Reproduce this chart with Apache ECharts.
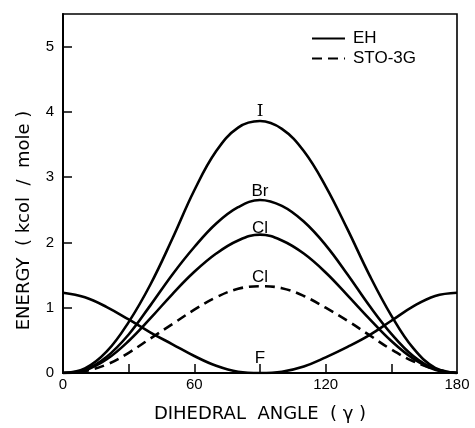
<!DOCTYPE html>
<html>
<head>
<meta charset="utf-8">
<title>Rotational barrier</title>
<script src="https://cdn.jsdelivr.net/npm/echarts@6.0.0/dist/echarts.min.js"></script>
<style>
  html, body { margin: 0; padding: 0; background: #fff; }
  #chart { width: 475px; height: 428px; }
</style>
</head>
<body>
<div id="chart"></div>
<script>
  // dihedral angle in degrees
  var angles = [0, 10, 20, 30, 40, 50, 60, 70, 80, 90, 100, 110, 120, 130, 140, 150, 160, 170, 180]

  // EH curves (kcal/mole)
  var iodine = [0, 0.07, 0.33, 0.78, 1.36, 2.06, 2.80, 3.40, 3.76, 3.86, 3.74, 3.40, 2.86, 2.20, 1.50, 0.88, 0.38, 0.08, 0]
  var bromine = [0, 0.05, 0.25, 0.59, 1.04, 1.51, 1.93, 2.29, 2.54, 2.65, 2.56, 2.32, 1.96, 1.51, 1.03, 0.60, 0.26, 0.06, 0]
  var chlorineEH = [0, 0.04, 0.21, 0.49, 0.84, 1.21, 1.55, 1.83, 2.03, 2.12, 2.03, 1.83, 1.54, 1.19, 0.83, 0.49, 0.22, 0.05, 0]
  var fluorine = [1.23, 1.16, 1.01, 0.82, 0.62, 0.44, 0.26, 0.11, 0.02, 0, 0.02, 0.10, 0.24, 0.40, 0.58, 0.80, 1.02, 1.18, 1.23]

  // STO-3G curve
  var chlorineSTO = [0, 0.03, 0.13, 0.31, 0.53, 0.75, 0.97, 1.16, 1.29, 1.33, 1.30, 1.18, 1.00, 0.80, 0.58, 0.36, 0.18, 0.06, 0]

  var yTicks = [0, 1, 2, 3, 4, 5]
  var xLabels = [0, 60, 120, 180]
  var xTicks = [30, 60, 90, 120, 150]

  var font = 'Liberation Sans'
  var peakIndex = 9

  function curve(name, values, label, shift, dashed, labelFont) {
    return {
      name: name,
      type: 'line',
      smooth: 0.4,
      symbol: 'circle',
      symbolSize: 2,
      showSymbol: true,
      silent: true,
      z: 3,
      itemStyle: { color: 'rgba(0,0,0,0)' },
      lineStyle: {
        color: '#000',
        width: 2.6,
        type: dashed ? [10, 6] : 'solid'
      },
      data: angles.map(function (a, i) {
        if (i !== peakIndex) return [a, values[i]]
        return {
          value: [a, values[i]],
          label: {
            show: true,
            position: 'top',
            distance: 0,
            offset: [0, shift],
            formatter: label,
            color: '#000',
            fontSize: 17,
            fontFamily: labelFont || font
          }
        }
      })
    }
  }

  var chart = echarts.init(document.getElementById('chart'))

  chart.setOption({
    backgroundColor: '#fff',
    animation: false,
    textStyle: { fontFamily: font, color: '#000' },
    grid: {
      left: 63,
      right: 18,
      top: 14,
      bottom: 51,
      show: true,
      borderColor: '#000',
      borderWidth: 1.6
    },
    legend: {
      orient: 'vertical',
      left: 306,
      top: 25,
      itemWidth: 33,
      itemHeight: 14,
      itemGap: 3,
      data: ['EH', 'STO-3G'],
      textStyle: { fontSize: 17, color: '#000', padding: [0, 0, 0, 3] }
    },
    xAxis: {
      type: 'value',
      min: 0,
      max: 180,
      interval: 30,
      name: 'DIHEDRAL  ANGLE  ( γ )',
      nameLocation: 'middle',
      nameGap: 32,
      nameTextStyle: { fontSize: 18, color: '#000', fontFamily: 'DejaVu Sans' },
      axisLine: { lineStyle: { color: '#000', width: 2 } },
      axisTick: { inside: true, length: 9, customValues: xTicks, lineStyle: { color: '#000', width: 1.5 } },
      axisLabel: { customValues: xLabels, margin: 4, fontSize: 15, color: '#000' },
      splitLine: { show: false }
    },
    yAxis: {
      type: 'value',
      min: 0,
      max: 5.5,
      interval: 1,
      name: 'ENERGY  ( kcol  /  mole )',
      nameLocation: 'middle',
      nameGap: 30,
      nameRotate: 90,
      nameTextStyle: { fontSize: 18, color: '#000', fontFamily: 'DejaVu Sans', padding: [0, 54, 0, 0] },
      axisLine: { lineStyle: { color: '#000', width: 2 } },
      axisTick: { inside: true, length: 9, customValues: yTicks, lineStyle: { color: '#000', width: 1.5 } },
      axisLabel: { customValues: yTicks, margin: 9, fontSize: 15, color: '#000' },
      splitLine: { show: false }
    },
    series: [
      curve('EH', iodine, 'I', 0, false, 'DejaVu Serif'),
      curve('EH', bromine, 'Br', 1, false),
      curve('EH', chlorineEH, 'Cl', 3, false),
      curve('EH', fluorine, 'F', -5, false),
      curve('STO-3G', chlorineSTO, 'Cl', 1, true)
    ]
  })
</script>
</body>
</html>
